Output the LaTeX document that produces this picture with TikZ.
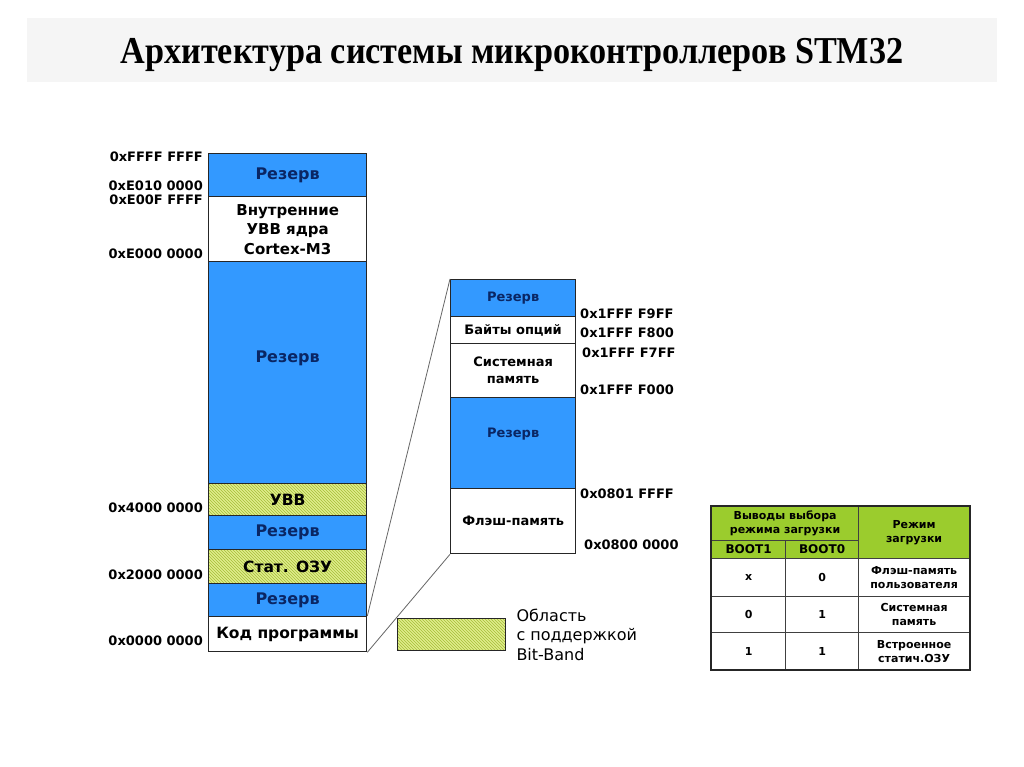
\documentclass[tikz,border=0pt]{standalone}
\usepackage{fontspec}
\setmainfont{DejaVu Sans}
\newfontfamily\titlefont{Liberation Serif}
\usepackage{tikz}
\usetikzlibrary{patterns}

\definecolor{resblue}{RGB}{51,153,255}
\definecolor{resnavy}{RGB}{10,38,100}
\definecolor{hatchbg}{RGB}{224,236,140}
\definecolor{hatchln}{RGB}{165,190,55}
\definecolor{hdrgreen}{RGB}{155,204,45}
\definecolor{bannergray}{RGB}{245,245,245}

\begin{document}
\begin{tikzpicture}[x=1pt,y=-1pt,
    cell/.style={rectangle, draw=black!85, line width=1.3pt, anchor=north west,
        inner sep=0pt, align=center, font=\bfseries\fontsize{15.5}{19.5}\selectfont},
    res/.style={cell, fill=resblue, text=resnavy},
    bitband/.style={cell, preaction={fill=hatchbg}, pattern=north west lines, pattern color=hatchln},
    midcell/.style={font=\bfseries\fontsize{13}{17}\selectfont},
    addr/.style={inner sep=0pt, font=\bfseries\fontsize{13}{15}\selectfont},
    tcell/.style={rectangle, draw=black!75, line width=1.2pt, anchor=north west,
        inner sep=0pt, align=center, font=\bfseries\fontsize{11}{14}\selectfont},
    thead/.style={tcell, fill=hdrgreen}]
    \useasboundingbox (0,0) rectangle (1024,767);
    \fill[white] (0,0) rectangle (1024,767);

    % title
    \fill[bannergray] (27,18) rectangle (997,82);
    \node (title) at (512,55) {\titlefont\bfseries\fontsize{38}{42}\selectfont
        \scalebox{0.9}[1]{Архитектура системы микроконтроллеров STM32}};

    % full memory map
    \node[res, minimum width=158, minimum height=43, font=\bfseries\fontsize{16}{19}\selectfont] (l1) at (208,153) {Резерв};
    \node[cell, minimum width=158, minimum height=65, font=\bfseries\fontsize{15}{19.5}\selectfont] (l2) at (208,196)
        {Внутренние\\УВВ ядра\\Cortex-M3};
    \node[res, minimum width=158, minimum height=222, font=\bfseries\fontsize{16}{19}\selectfont] (l3) at (208,261) {Резерв\\[13pt]};
    \node[bitband, minimum width=158, minimum height=32] (l4) at (208,483) {УВВ};
    \node[res, minimum width=158, minimum height=34, font=\bfseries\fontsize{16}{19}\selectfont] (l5) at (208,515) {Резерв};
    \node[bitband, minimum width=158, minimum height=34] (l6) at (208,549) {Стат. ОЗУ};
    \node[res, minimum width=158, minimum height=33, font=\bfseries\fontsize{16}{19}\selectfont] (l7) at (208,583) {Резерв};
    \node[cell, minimum width=158, minimum height=35] (l8) at (208,616) {Код программы};

    \node[addr, anchor=east] (a1) at (203,157) {0xFFFF FFFF};
    \node[addr, anchor=east] (a2) at (203,186) {0xE010 0000};
    \node[addr, anchor=east] (a3) at (203,200) {0xE00F FFFF};
    \node[addr, anchor=east] (a4) at (203,254) {0xE000 0000};
    \node[addr, anchor=east] (a5) at (203,508) {0x4000 0000};
    \node[addr, anchor=east] (a6) at (203,575) {0x2000 0000};
    \node[addr, anchor=east] (a7) at (203,641) {0x0000 0000};

    % code area in detail
    \node[res, midcell, minimum width=125, minimum height=37] (m1) at (450,279) {Резерв};
    \node[cell, midcell, minimum width=125, minimum height=27] (m2) at (450,316) {Байты опций};
    \node[cell, midcell, minimum width=125, minimum height=54] (m3) at (450,343) {Системная\\память};
    \node[res, midcell, minimum width=125, minimum height=91] (m4) at (450,397) {Резерв\\[3pt]};
    \node[cell, midcell, minimum width=125, minimum height=65] (m5) at (450,488) {Флэш-память};

    \node[addr, anchor=west] (b1) at (580,314) {0x1FFF F9FF};
    \node[addr, anchor=west] (b2) at (580,333) {0x1FFF F800};
    \node[addr, anchor=west] (b3) at (582,353) {0x1FFF F7FF};
    \node[addr, anchor=west] (b4) at (580,390) {0x1FFF F000};
    \node[addr, anchor=west] (b5) at (580,494) {0x0801 FFFF};
    \node[addr, anchor=west] (b6) at (584,545) {0x0800 0000};

    \draw[black!60, line width=0.8pt] (l8.north east) -- (m1.north west);
    \draw[black!60, line width=0.8pt] (l8.south east) -- (m5.south west);

    % legend
    \node[bitband, minimum width=108, minimum height=32] (key) at (397,618) {};
    \node[anchor=west, align=left, inner sep=0pt, font=\fontsize{16}{19.5}\selectfont] (keytext)
        at ([xshift=10pt]key.east) {Область\\с поддержкой\\Bit-Band};

    % boot mode table
    \node[thead, minimum width=147, minimum height=34] (th1) at (711,506) {Выводы выбора\\режима загрузки};
    \node[thead, minimum width=74, minimum height=18, font=\bfseries\fontsize{12}{14}\selectfont] (th2) at (711,540) {BOOT1};
    \node[thead, minimum width=73, minimum height=18, font=\bfseries\fontsize{12}{14}\selectfont] (th3) at (785,540) {BOOT0};
    \node[thead, minimum width=111, minimum height=52] (th4) at (858,506) {Режим\\загрузки};

    \node[tcell, minimum width=74, minimum height=38] (r1a) at (711,558) {x};
    \node[tcell, minimum width=73, minimum height=38] (r1b) at (785,558) {0};
    \node[tcell, minimum width=111, minimum height=38] (r1c) at (858,558) {Флэш-память\\пользователя};
    \node[tcell, minimum width=74, minimum height=36] (r2a) at (711,596) {0};
    \node[tcell, minimum width=73, minimum height=36] (r2b) at (785,596) {1};
    \node[tcell, minimum width=111, minimum height=36] (r2c) at (858,596) {Системная\\память};
    \node[tcell, minimum width=74, minimum height=37] (r3a) at (711,632) {1};
    \node[tcell, minimum width=73, minimum height=37] (r3b) at (785,632) {1};
    \node[tcell, minimum width=111, minimum height=37] (r3c) at (858,632) {Встроенное\\статич.ОЗУ};
    \draw[black!85, line width=2pt] (th1.north west) rectangle (r3c.south east);
\end{tikzpicture}
\end{document}
